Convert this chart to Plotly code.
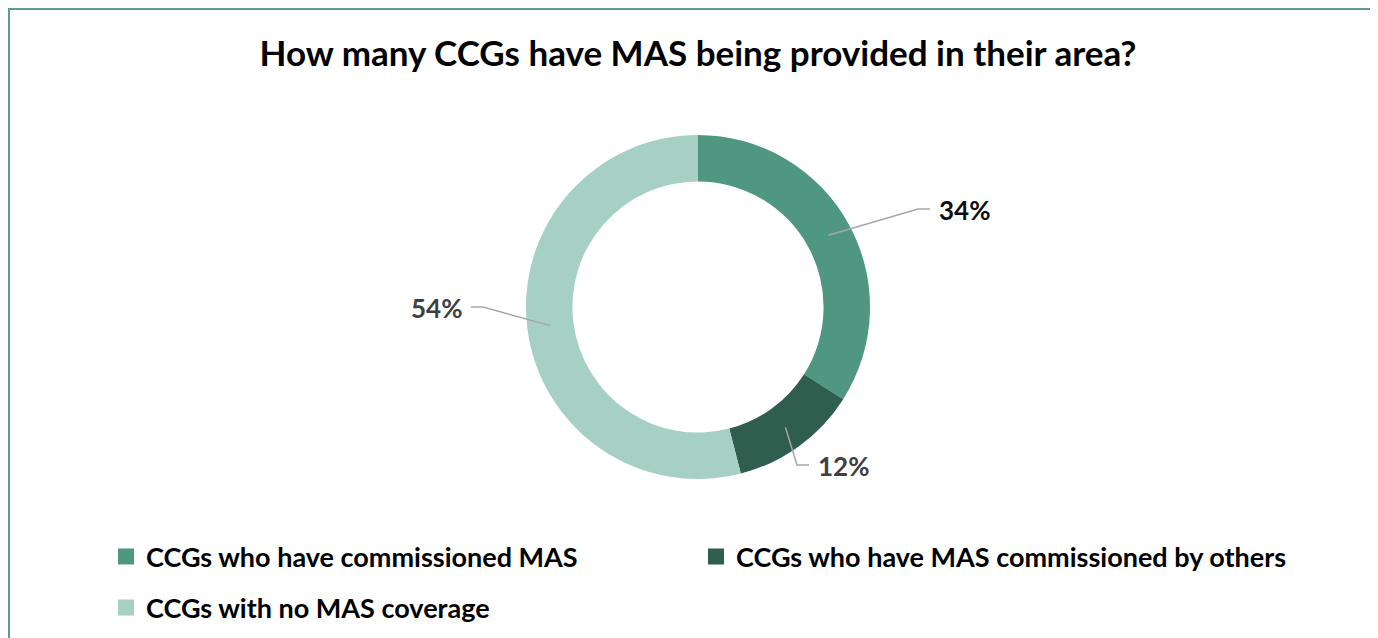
import math
import plotly.graph_objects as go

labels = [
    "CCGs who have commissioned MAS",
    "CCGs who have MAS commissioned by others",
    "CCGs with no MAS coverage",
]
shares = [34, 12, 54]
colors = ["#4F9780", "#2F5E4F", "#A6D0C4"]
label_colors = ["#0D0D0D", "#404040", "#404040"]

# page body adds an 8px margin, so the figure is a bit smaller than the window
W, H = 1370, 630
FONT = "Lato"
cx, cy, r = 698, 307, 172
hole = 0.73

# where the leader line bends (window pixels), per slice
elbows = [(918, 209), (797, 465), (483, 307)]


def rx(x):
    return (x - 8) / W


def ry(y):
    return 1 - (y - 8) / H


fig = go.Figure()
fig.add_trace(go.Pie(
    labels=labels, values=shares, hole=hole, sort=False,
    direction="clockwise", rotation=0, textinfo="none",
    marker=dict(colors=colors, line=dict(width=0)),
    domain=dict(x=[rx(cx - r), rx(cx + r)], y=[ry(cy + r), ry(cy - r)]),
    showlegend=False, hoverinfo="label+percent",
))

# legend entries as square markers (two legends to get the row spacing)
for i, (lab, col) in enumerate(zip(labels, colors)):
    fig.add_trace(go.Scatter(
        x=[None], y=[None], mode="markers", name=f"<b>{lab}</b>",
        marker=dict(symbol="square", size=16, color=col),
        legend="legend" if i < 2 else "legend2",
    ))

# leader lines start in the middle of each slice's ring
total = sum(shares)
start = 0
r_mid = r * (1 + hole) / 2
for val, col, (ex, ey) in zip(shares, label_colors, elbows):
    ang = math.radians((start + val / 2) / total * 360)
    start += val
    x0, y0 = cx + r_mid * math.sin(ang), cy - r_mid * math.cos(ang)
    side = 1 if ex >= cx else -1
    x2 = ex + side * 12
    fig.add_shape(type="path", xref="paper", yref="paper",
                  path=f"M {rx(x0)},{ry(y0)} L {rx(ex)},{ry(ey)} L {rx(x2)},{ry(ey)}",
                  line=dict(color="#A6A6A6", width=1.5))
    fig.add_annotation(x=rx(x2 + side * 7), y=ry(ey + 1), xref="paper", yref="paper",
                       text=f"<b>{val}%</b>", showarrow=False,
                       xanchor="left" if side > 0 else "right", yanchor="middle",
                       font=dict(family=FONT, size=26, color=col))

# chart frame: only the top and left edges are inside the picture
top, left = 1 - 1 / H, 1 / W
fig.add_shape(type="path", xref="paper", yref="paper",
              path=f"M 1.2,{top} L {left},{top} L {left},-0.2",
              line=dict(color="#5E9E86", width=2), fillcolor="rgba(0,0,0,0)",
              layer="below")

fig.update_layout(
    width=W, height=H,
    margin=dict(l=0, r=0, t=0, b=0),
    paper_bgcolor="white", plot_bgcolor="white",
    title=dict(text="<b>How many CCGs have MAS being provided in their area?</b>",
               x=rx(698), xanchor="center", y=ry(54), yanchor="middle",
               font=dict(family=FONT, size=35, color="#000000")),
    xaxis=dict(visible=False), yaxis=dict(visible=False),
    legend=dict(orientation="h", x=rx(106), y=ry(557), xanchor="left", yanchor="middle",
                entrywidth=545, font=dict(family=FONT, size=27, color="#000000"),
                itemsizing="trace"),
    legend2=dict(orientation="h", x=rx(106), y=ry(608), xanchor="left", yanchor="middle",
                 font=dict(family=FONT, size=27, color="#000000"),
                 itemsizing="trace"),
)

fig.write_html("out.html",
               post_script="document.documentElement.style.overflow='hidden';"
                           "document.body.style.overflow='hidden';")
